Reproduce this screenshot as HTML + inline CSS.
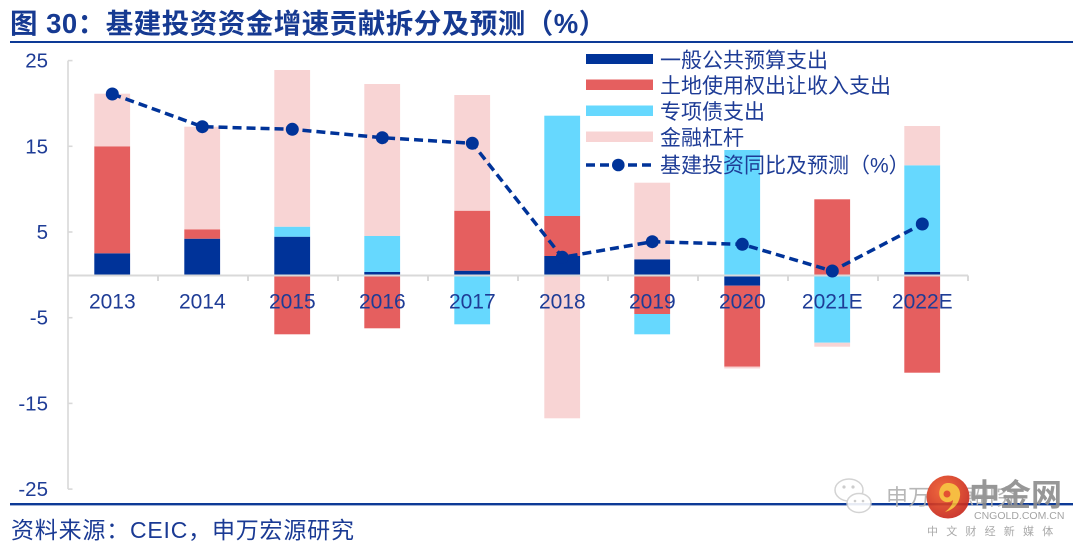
<!DOCTYPE html>
<html>
<head>
<meta charset="utf-8">
<style>
html,body{margin:0;padding:0;background:#fff;}
svg{display:block;}
text{font-family:"Liberation Sans","Noto Sans CJK SC",sans-serif;}
</style>
</head>
<body>
<svg width="1080" height="547" viewBox="0 0 1080 547" xmlns="http://www.w3.org/2000/svg">
<defs>
<radialGradient id="rg" cx="40%" cy="35%" r="70%">
<stop offset="0" stop-color="#f05a28"/>
<stop offset="1" stop-color="#c5231a"/>
</radialGradient>
</defs>
<rect width="1080" height="547" fill="#fff"/>

<!-- Title -->
<text x="10" y="33" font-size="27.5" font-weight="bold" fill="#163a92" letter-spacing="0.5">图 30：基建投资资金增速贡献拆分及预测（%）</text>
<rect x="10" y="41" width="1063" height="2" fill="#0d3a96"/>

<!-- Y axis -->
<g stroke="#d9d9d9" stroke-width="1.6" fill="none">
<line x1="68" y1="60.6" x2="68" y2="489.1"/>
<line x1="68" y1="60.6" x2="72.5" y2="60.6"/>
<line x1="68" y1="146.3" x2="72.5" y2="146.3"/>
<line x1="68" y1="232" x2="72.5" y2="232"/>
<line x1="68" y1="317.7" x2="72.5" y2="317.7"/>
<line x1="68" y1="403.4" x2="72.5" y2="403.4"/>
<line x1="68" y1="489.1" x2="72.5" y2="489.1"/>
</g>
<g font-size="20.5" fill="#1e3c96" text-anchor="end">
<text x="48" y="67.6">25</text>
<text x="48" y="153.3">15</text>
<text x="48" y="239">5</text>
<text x="48" y="324.7">-5</text>
<text x="48" y="410.4">-15</text>
<text x="48" y="496.1">-25</text>
</g>

<!-- Bars -->
<g>
<rect x="94.3" y="253.3" width="35.8" height="21.55" fill="#003399"/>
<rect x="94.3" y="146.3" width="35.8" height="107" fill="#e55f5f"/>
<rect x="94.3" y="93.7" width="35.8" height="52.6" fill="#f8d4d4"/>
<rect x="184.3" y="238.7" width="35.8" height="36.15" fill="#003399"/>
<rect x="184.3" y="229.3" width="35.8" height="9.4" fill="#e55f5f"/>
<rect x="184.3" y="126.7" width="35.8" height="102.6" fill="#f8d4d4"/>
<rect x="274.3" y="236.7" width="35.8" height="38.15" fill="#003399"/>
<rect x="274.3" y="226.7" width="35.8" height="10" fill="#66d8fe"/>
<rect x="274.3" y="70" width="35.8" height="156.7" fill="#f8d4d4"/>
<rect x="274.3" y="274.85" width="35.8" height="59.45" fill="#e55f5f"/>
<rect x="364.3" y="272" width="35.8" height="2.85" fill="#003399"/>
<rect x="364.3" y="236" width="35.8" height="36" fill="#66d8fe"/>
<rect x="364.3" y="84" width="35.8" height="152" fill="#f8d4d4"/>
<rect x="364.3" y="274.85" width="35.8" height="53.45" fill="#e55f5f"/>
<rect x="454.3" y="270.7" width="35.8" height="4.15" fill="#003399"/>
<rect x="454.3" y="210.7" width="35.8" height="60" fill="#e55f5f"/>
<rect x="454.3" y="95" width="35.8" height="115.7" fill="#f8d4d4"/>
<rect x="454.3" y="274.85" width="35.8" height="49.45" fill="#66d8fe"/>
<rect x="544.3" y="256" width="35.8" height="18.85" fill="#003399"/>
<rect x="544.3" y="216" width="35.8" height="40" fill="#e55f5f"/>
<rect x="544.3" y="115.7" width="35.8" height="100.3" fill="#66d8fe"/>
<rect x="544.3" y="274.85" width="35.8" height="143.45" fill="#f8d4d4"/>
<rect x="634.3" y="259.3" width="35.8" height="15.55" fill="#003399"/>
<rect x="634.3" y="182.7" width="35.8" height="76.6" fill="#f8d4d4"/>
<rect x="634.3" y="274.85" width="35.8" height="39.15" fill="#e55f5f"/>
<rect x="634.3" y="314" width="35.8" height="20.3" fill="#66d8fe"/>
<rect x="724.3" y="150" width="35.8" height="124.85" fill="#66d8fe"/>
<rect x="724.3" y="274.85" width="35.8" height="10.85" fill="#003399"/>
<rect x="724.3" y="285.7" width="35.8" height="81" fill="#e55f5f"/>
<rect x="724.3" y="366.7" width="35.8" height="1.8" fill="#f8d4d4"/>
<rect x="814.3" y="199.3" width="35.8" height="75.55" fill="#e55f5f"/>
<rect x="814.3" y="274.85" width="35.8" height="67.85" fill="#66d8fe"/>
<rect x="814.3" y="342.7" width="35.8" height="4" fill="#f8d4d4"/>
<rect x="904.3" y="272" width="35.8" height="2.85" fill="#003399"/>
<rect x="904.3" y="165.3" width="35.8" height="106.7" fill="#66d8fe"/>
<rect x="904.3" y="126" width="35.8" height="39.3" fill="#f8d4d4"/>
<rect x="904.3" y="274.85" width="35.8" height="97.85" fill="#e55f5f"/>
</g>

<!-- X axis -->
<g stroke="#d9d9d9" stroke-width="2" fill="none">
<line x1="68" y1="275.5" x2="968" y2="275.5"/>
<line x1="158" y1="275.5" x2="158" y2="281"/>
<line x1="248" y1="275.5" x2="248" y2="281"/>
<line x1="338" y1="275.5" x2="338" y2="281"/>
<line x1="428" y1="275.5" x2="428" y2="281"/>
<line x1="518" y1="275.5" x2="518" y2="281"/>
<line x1="608" y1="275.5" x2="608" y2="281"/>
<line x1="698" y1="275.5" x2="698" y2="281"/>
<line x1="788" y1="275.5" x2="788" y2="281"/>
<line x1="878" y1="275.5" x2="878" y2="281"/>
<line x1="968" y1="275.5" x2="968" y2="281"/>
</g>
<g font-size="21" fill="#1e3c96" text-anchor="middle">
<text x="112.3" y="308.3">2013</text>
<text x="202.3" y="308.3">2014</text>
<text x="292.3" y="308.3">2015</text>
<text x="382.3" y="308.3">2016</text>
<text x="472.3" y="308.3">2017</text>
<text x="562.3" y="308.3">2018</text>
<text x="652.3" y="308.3">2019</text>
<text x="742.3" y="308.3">2020</text>
<text x="832.3" y="308.3">2021E</text>
<text x="922.3" y="308.3">2022E</text>
</g>

<!-- Line series -->
<polyline points="112.3,94 202.3,126.7 292.3,129.3 382.3,137.7 472.3,143.3 562.3,257.3 652.3,241.7 742.3,244.3 832.3,271 922.3,224" fill="none" stroke="#003399" stroke-width="3.5" stroke-dasharray="9 5"/>
<g fill="#003399">
<circle cx="112.3" cy="94" r="6.5"/>
<circle cx="202.3" cy="126.7" r="6.5"/>
<circle cx="292.3" cy="129.3" r="6.5"/>
<circle cx="382.3" cy="137.7" r="6.5"/>
<circle cx="472.3" cy="143.3" r="6.5"/>
<circle cx="562.3" cy="257.3" r="6.5"/>
<circle cx="652.3" cy="241.7" r="6.5"/>
<circle cx="742.3" cy="244.3" r="6.5"/>
<circle cx="832.3" cy="271" r="6.5"/>
<circle cx="922.3" cy="224" r="6.5"/>
</g>

<!-- Legend -->
<rect x="586" y="54" width="67" height="10" fill="#003399"/>
<rect x="586" y="79.5" width="67" height="10.5" fill="#e55f5f"/>
<rect x="586" y="105.5" width="67" height="10.5" fill="#66d8fe"/>
<rect x="586" y="131.5" width="67" height="10.5" fill="#f8d4d4"/>
<line x1="586" y1="165" x2="653" y2="165" stroke="#003399" stroke-width="3.5" stroke-dasharray="9 5"/>
<circle cx="618.3" cy="165" r="6.3" fill="#003399"/>
<g font-size="21" fill="#1e3c96">
<text x="660" y="67.5">一般公共预算支出</text>
<text x="660" y="93">土地使用权出让收入支出</text>
<text x="660" y="119">专项债支出</text>
<text x="660" y="145">金融杠杆</text>
<text x="660" y="172.5">基建投资同比及预测（%）</text>
</g>

<!-- Bottom line and source -->
<rect x="10" y="503" width="1063" height="2.4" fill="#0d3a96"/>
<text x="11" y="538" font-size="23" fill="#1a3a94" letter-spacing="0.8">资料来源：CEIC，申万宏源研究</text>

<!-- Watermark -->
<g opacity="0.9">
<ellipse cx="849" cy="490" rx="14" ry="11" fill="#fff" stroke="#cfcfcf" stroke-width="1.5"/>
<ellipse cx="859" cy="503" rx="12" ry="9.5" fill="#fff" stroke="#cfcfcf" stroke-width="1.5"/>
<circle cx="844" cy="487" r="1.6" fill="#c8c8c8"/>
<circle cx="853" cy="487" r="1.6" fill="#c8c8c8"/>
<circle cx="855" cy="501" r="1.3" fill="#c8c8c8"/>
<circle cx="863" cy="501" r="1.3" fill="#c8c8c8"/>
<text x="886" y="505" font-size="22" fill="#b0b0b0">申万宏源研究</text>
<circle cx="948" cy="497" r="21.5" fill="url(#rg)"/>
<path d="M948,483 c8,0 13,6 12,13 c-1,8 -7,14 -15,16 c5,-4 8,-8 8,-12 c-3,3 -9,3 -12,-1 c-4,-5 -1,-16 7,-16 z" fill="#f6b62e"/>
<circle cx="947" cy="494" r="3.5" fill="#e0401c"/>
<text x="969" y="506" font-size="31" font-weight="bold" fill="#8c8c8c">中金网</text>
<text x="974" y="519" font-size="10.5" fill="#9a9a9a">CNGOLD.COM.CN</text>
<text x="927" y="535" font-size="11" fill="#a0a0a0" letter-spacing="8.2">中文财经新媒体</text>
</g>
</svg>
</body>
</html>
